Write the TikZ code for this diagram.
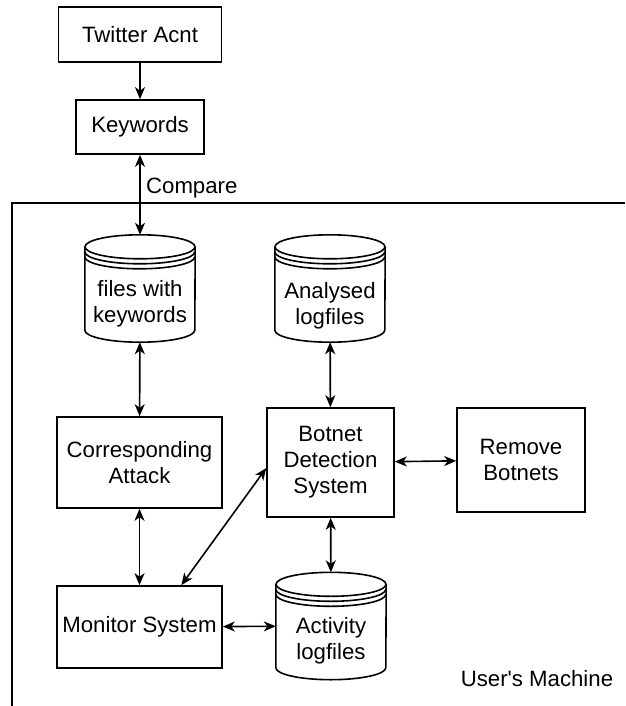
\documentclass[tikz,border=0pt]{standalone}
\usepackage{fontspec}
\setmainfont{Liberation Sans}
\usepackage{tikz}
\usetikzlibrary{arrows.meta}
% contorno del data store (cilindro con due bande)
\newcommand{\storeOutline}[1]{
\draw[line width=1.6pt] ([yshift=-12pt]#1.north west) -- ([yshift=12pt]#1.south west) arc[start angle=180, end angle=0, x radius=55, y radius=12] -- ([yshift=-12pt]#1.north east);
\draw[line width=1.6pt] ([yshift=-12pt]#1.north) ellipse [x radius=55, y radius=12];
\draw[line width=1.6pt] ([yshift=-17pt]#1.north west) arc[start angle=180, end angle=0, x radius=55, y radius=12];
\draw[line width=1.6pt] ([yshift=-22pt]#1.north west) arc[start angle=180, end angle=0, x radius=55, y radius=12];
}

\begin{document}
\begin{tikzpicture}[x=1pt, y=-1pt,
    every node/.style={font=\fontsize{22.2}{26}\selectfont},
    box/.style={draw, line width=1.6pt, align=center, inner sep=0pt},
    store/.style={minimum width=110pt, minimum height=107pt, inner sep=0pt},
    link/.style={line width=1.6pt, -{Stealth[length=12pt, width=10pt, inset=3.5pt]}},
    both/.style={line width=1.6pt, {Stealth[length=12pt, width=10pt, inset=3.5pt]}-{Stealth[length=12pt, width=10pt, inset=3.5pt]}}]
    \useasboundingbox (0,0) rectangle (625,706);
    % macchina dell'utente
    \draw[line width=1.6pt] (12,706) -- (12,203) -- (625,203);
    \node (machine) at (537,679) {User\textquotesingle s Machine};
    % blocchi
    \node[box, minimum width=163pt, minimum height=55pt] (tw) at (140,34.5) {Twitter Acnt};
    \node[box, minimum width=128pt, minimum height=54pt] (kw) at (140,127) {Keywords};
    \node[box, minimum width=165pt, minimum height=91pt] (cor) at (139.5,462.5) {Corresponding\\Attack};
    \node[box, minimum width=127pt, minimum height=109pt] (bds) at (330.5,462.5) {Botnet\\Detection\\System};
    \node[box, minimum width=128pt, minimum height=104pt] (rem) at (521,460) {Remove\\Botnets};
    \node[box, minimum width=165pt, minimum height=82pt] (mon) at (139.5,627) {Monitor System};
    % data store
    \node[store, label={[name=filesTxt, align=center, yshift=-15pt]center:files with\\keywords}] (files) at (140,288.5) {};
    \node[store, label={[name=anaTxt, align=center, yshift=-17pt]center:Analysed\\logfiles}] (ana) at (330,288.5) {};
    \node[store, label={[name=actTxt, align=center, yshift=-15pt]center:Activity\\logfiles}] (act) at (331,626) {};
    \storeOutline{files}
    \storeOutline{ana}
    \storeOutline{act}
    % collegamenti
    \draw[link] (tw) -- (kw);
    \draw[both] (kw) -- (files) node[pos=0.41, right=2pt] (cmp) {Compare};
    \draw[both] (files) -- (cor);
    \draw[both] (ana) -- (bds);
    \draw[both] (bds) -- (rem);
    \draw[both] (cor) -- (mon);
    \draw[both] (mon.45) -- (bds.185);
    \draw[both] (bds) -- (act);
    \draw[both] (mon) -- (act);
\end{tikzpicture}
\end{document}
